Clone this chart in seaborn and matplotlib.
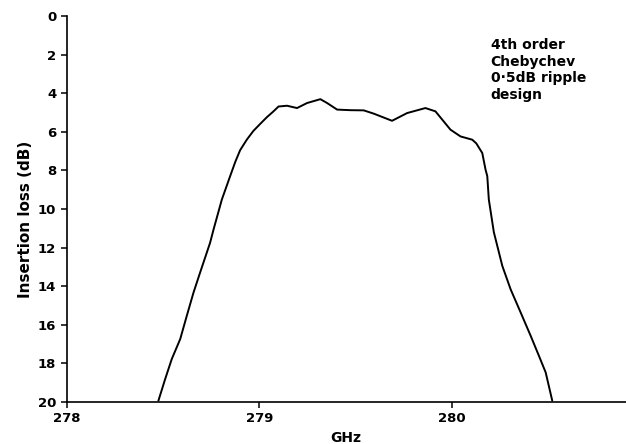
import matplotlib
matplotlib.use("Agg")
import matplotlib.pyplot as plt
import seaborn as sns

# insertion loss trace (GHz, dB)
freq = [278.476, 278.511, 278.545, 278.589, 278.623, 278.658, 278.692, 278.744,
        278.762, 278.805, 278.848, 278.875, 278.900, 278.935, 278.969, 279.005,
        279.039, 279.073, 279.099, 279.143, 279.195, 279.247, 279.316, 279.351,
        279.403, 279.470, 279.541, 279.593, 279.688, 279.766, 279.861, 279.913,
        279.991, 280.043, 280.104, 280.125, 280.156, 280.173, 280.182, 280.190,
        280.216, 280.260, 280.303, 280.355, 280.407, 280.450, 280.485, 280.519]
loss = [19.93, 18.81, 17.78, 16.74, 15.54, 14.33, 13.30, 11.75,
        11.06, 9.51, 8.30, 7.55, 6.95, 6.40, 5.95, 5.58,
        5.24, 4.94, 4.69, 4.65, 4.77, 4.51, 4.31, 4.51,
        4.85, 4.88, 4.89, 5.06, 5.43, 5.03, 4.77, 4.94,
        5.89, 6.24, 6.41, 6.60, 7.10, 7.96, 8.30, 9.51,
        11.20, 12.95, 14.16, 15.36, 16.57, 17.61, 18.47, 19.93]

xticks = [278, 279, 280]
yticks = list(range(0, 21, 2))
note = "4th order\nChebychev\n0\u00b75dB ripple\ndesign"

sns.set_style("ticks")
plt.rcParams['font.family'] = ['DejaVu Sans']
plt.rcParams.update({
    'text.color': 'black',
    'axes.labelcolor': 'black',
    'xtick.color': 'black',
    'ytick.color': 'black',
})

fig = plt.figure(figsize=(6.26, 4.44), dpi=100)
ax = fig.add_axes([0.1065, 0.0946, 0.893, 0.8694])

sns.lineplot(x=freq, y=loss, sort=False, color='black', linewidth=1.4, ax=ax)

ax.set_xlim(278, 280.9)
ax.set_ylim(20, 0)
ax.set_xticks(xticks)
ax.set_yticks(yticks)
ax.tick_params(direction='out', length=4.5, width=1.1, colors='black',
               labelsize=9.5, pad=3)
for lab in ax.get_xticklabels() + ax.get_yticklabels():
    lab.set_fontweight('bold')

sns.despine(ax=ax)
for s in ['left', 'bottom']:
    ax.spines[s].set_linewidth(1.2)
    ax.spines[s].set_color('black')

ax.set_xlabel('GHz', fontsize=10, fontweight='bold', labelpad=4)
ax.set_ylabel('Insertion loss (dB)', fontsize=11, fontweight='bold')
ax.yaxis.set_label_coords(-0.061, 0.472)

ax.text(0.7585, 0.943, note, transform=ax.transAxes, fontsize=10,
        fontweight='bold', va='top', ha='left', linespacing=1.25)

plt.savefig('out.png', dpi=100)
